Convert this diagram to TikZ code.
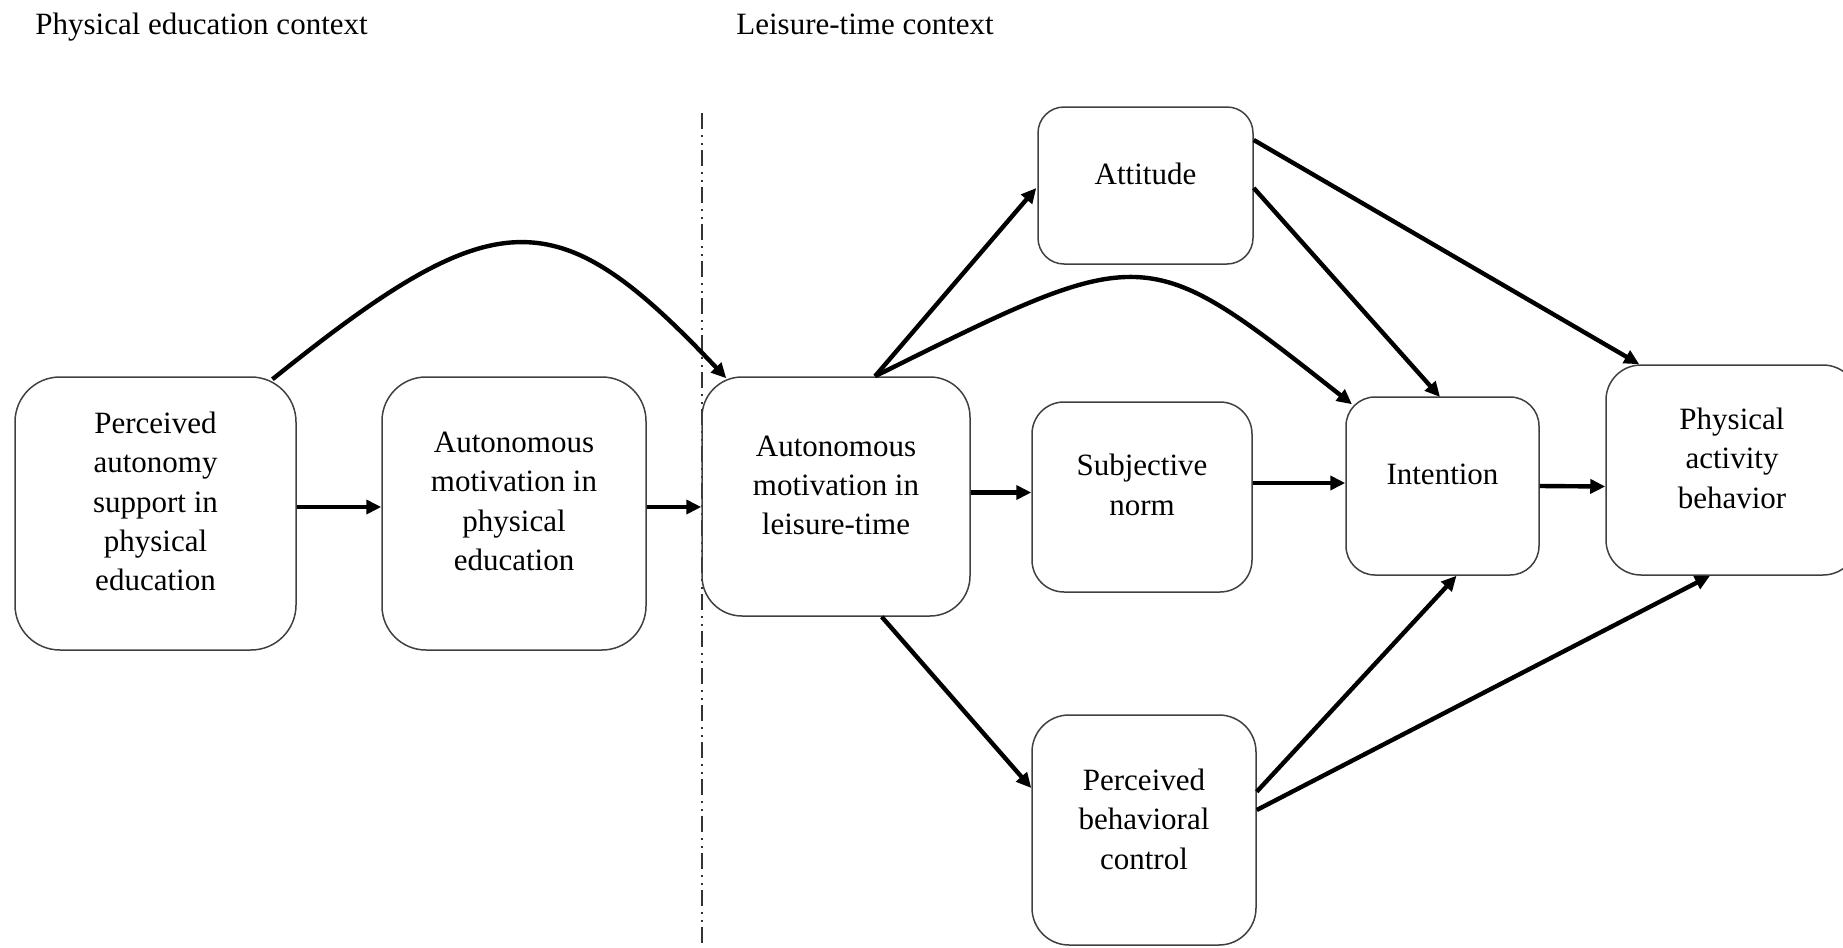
\documentclass[tikz,border=0pt]{standalone}
\usepackage{fontspec}
\setmainfont{Liberation Serif}
\usetikzlibrary{arrows.meta,calc}
\begin{document}
\begin{tikzpicture}[x=0.5pt,y=-0.5pt,
  box/.style={draw=black!75,line width=0.75pt,inner sep=0pt},
  txt/.style={align=center,inner sep=0pt,font=\fontsize{15.5}{19.7}\selectfont},
  arr/.style={line width=2.2pt,-{Triangle[length=7.5pt,width=7pt]}},
  sep/.style={line width=0.75pt,black!80,dash pattern=on 8pt off 3pt on 0.75pt off 3.25pt on 0.75pt off 2.75pt}]
\clip (0,0) rectangle (1843,948);

% context headings
\node[txt,anchor=base west] (hpe) at (35,34) {Physical education context};
\node[txt,anchor=base west] (hlt) at (736,34) {Leisure-time context};

% separator between the two contexts
\coordinate (septop) at (702,113);
\coordinate (sepbot) at (702,948);
\draw[sep] (septop) -- (sepbot);

% boxes
\node[box,minimum width=140.5pt,minimum height=136.5pt,rounded corners=22.5pt] (pas) at (155.5,513.5) {};
\node[box,minimum width=132pt,minimum height=136.5pt,rounded corners=22pt] (ampe) at (514,513.5) {};
\node[box,minimum width=134pt,minimum height=119.5pt,rounded corners=20pt] (amlt) at (836,496.5) {};
\node[box,minimum width=107.5pt,minimum height=78.5pt,rounded corners=13pt] (att) at (1145.5,185.5) {};
\node[box,minimum width=110pt,minimum height=95pt,rounded corners=16pt] (sn) at (1142,497) {};
\node[box,minimum width=112pt,minimum height=115pt,rounded corners=18.5pt] (pbc) at (1144,830) {};
\node[box,minimum width=96.5pt,minimum height=89pt,rounded corners=14.5pt] (int) at (1442.5,486) {};
\node[box,minimum width=126pt,minimum height=105pt,rounded corners=17.5pt] (pab) at (1732,470) {};

% box labels
\node[txt] (tpas) at ($(pas)+(0,-12)$) {Perceived\\autonomy\\support in\\physical\\education};
\node[txt] (tampe) at ($(ampe)+(0,-12)$) {Autonomous\\motivation in\\physical\\education};
\node[txt] (tamlt) at ($(amlt)+(0,-11)$) {Autonomous\\motivation in\\leisure-time};
\node[txt] (tatt) at ($(att)+(0,-12)$) {Attitude};
\node[txt] (tsn) at ($(sn)+(0,-12)$) {Subjective\\norm};
\node[txt] (tpbc) at ($(pbc)+(0,-11)$) {Perceived\\behavioral\\control};
\node[txt] (tint) at ($(int)+(0,-12)$) {Intention};
\node[txt] (tpab) at ($(pab)+(0,-12)$) {Physical\\activity\\behavior};

% horizontal chain
\draw[arr] ($(pas.east)+(0,-6.5)$) -- ($(ampe.west)+(0,-6.5)$);
\draw[arr] ($(ampe.east)+(0,-6.5)$) -- ($(amlt.west)+(0,10.5)$);
\draw[arr] ($(amlt.east)+(0,-4)$) -- ($(sn.west)+(0,-4.5)$);
\draw[arr] ($(sn.east)+(0,-14)$) -- ($(int.west)+(0,-3)$);
\draw[arr] (int.east) -- ($(pab.west)+(0,16.5)$);

% curved paths
\draw[arr] ($(pas.north east)+(-24.3,3)$) .. controls +(225,-181) and +(-170,-180) .. ($(amlt.north west)+(25,2)$);
\draw[arr] ($(amlt.north)+(39,0)$) .. controls +(272,-135) and +(-208,-164) .. ($(int.north west)+(6.7,8)$);

% diagonal paths
\draw[arr] ($(amlt.north)+(39,0)$) -- ($(att.west)+(-1,2.5)$);
\draw[arr] ($(amlt.south)+(45.7,0)$) -- ($(pbc.west)+(0,-42)$);
\draw[arr] ($(att.east)+(0,2.5)$) -- ($(int.north)+(-2.5,0.7)$);
\draw[arr] ($(att.east)+(0,-45.5)$) -- ($(pab.north west)+(34,0)$);
\draw[arr] ($(pbc.east)+(0,-38.3)$) -- ($(int.south)+(14,0)$);
\draw[arr] ($(pbc.east)+(0,-20)$) -- ($(pab.south)+(-22,0)$);
\end{tikzpicture}
\end{document}
